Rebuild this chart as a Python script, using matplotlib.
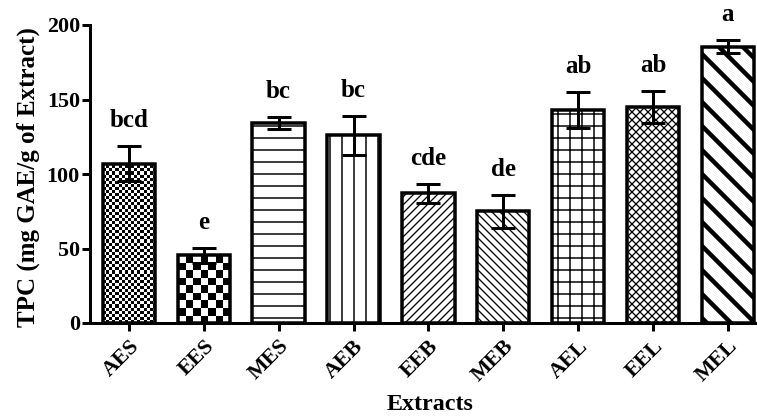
import numpy as np
import matplotlib
matplotlib.use("Agg")
import matplotlib.pyplot as plt

extracts = ["AES", "EES", "MES", "AEB", "EEB", "MEB", "AEL", "EEL", "MEL"]
tpc_mean = [107, 45.5, 134, 126, 87, 75, 143, 145, 185.5]
tpc_sd = [12, 5, 4, 13, 6.5, 11, 12, 11, 4.5]
letters = ["bcd", "e", "bc", "bc", "cde", "de", "ab", "ab", "a"]

# fill styles: checker cells across the bar (0 = use hatch instead)
checker_n = [17, 7, 0, 0, 0, 0, 0, 0, 0]
hatches = [None, None, "-", "|", "///", "\\\\\\", "+", "xxx", "\\"]
hatch_lw = [1, 1, 1.5, 1.5, 1.3, 1.3, 1.5, 1.3, 4.5]

plt.rcParams["font.family"] = ["Liberation Serif", "DejaVu Serif"]
plt.rcParams["font.weight"] = "bold"

W, H, DPI = 757, 419, 72
fig = plt.figure(figsize=(W / DPI, H / DPI), dpi=DPI)
ax = fig.add_axes([90 / W, 1 - 323 / H, 1 - 90 / W, (323 - 25) / H])
ax.set_xlim(-0.52, 8.39)
ax.set_ylim(0, 200)

x = np.arange(len(extracts))
face = ["none" if n else "white" for n in checker_n]
bars = ax.bar(x, tpc_mean, width=0.7, color=face, edgecolor="black",
              linewidth=3.5, zorder=2)

# pixel size of one data unit, to size the checker cells
px_x = ax.get_position().width * W / (ax.get_xlim()[1] - ax.get_xlim()[0])
px_y = ax.get_position().height * H / 200

for i, b in enumerate(bars):
    if hatches[i]:
        b.set_hatch(hatches[i])
        if hasattr(b, "set_hatch_linewidth"):
            b.set_hatch_linewidth(hatch_lw[i])
    n = checker_n[i]
    if n:
        w = b.get_width()
        cell_y = (w / n) * px_x / px_y
        ny = int(np.ceil(b.get_height() / cell_y))
        arr = np.add.outer(np.arange(ny), np.arange(n)) % 2
        x0 = b.get_x()
        im = ax.imshow(arr, cmap="gray_r", vmin=0, vmax=1, origin="lower",
                       extent=(x0, x0 + w, 0, ny * cell_y),
                       interpolation="nearest", aspect="auto", zorder=1)
        im.set_clip_path(b)

ax.set_xlim(-0.52, 8.39)
ax.set_ylim(0, 200)

ax.errorbar(x, tpc_mean, yerr=tpc_sd, fmt="none", ecolor="black",
            elinewidth=3, capsize=12, capthick=3, zorder=3)

for xi, m, s, lab in zip(x, tpc_mean, tpc_sd, letters):
    ax.annotate(lab, (xi, m + s), xytext=(0, 19), textcoords="offset points",
                ha="center", va="baseline", fontsize=25, fontweight="bold",
                annotation_clip=False)

for side in ["top", "right"]:
    ax.spines[side].set_visible(False)
for side in ["left", "bottom"]:
    ax.spines[side].set_linewidth(3)

ax.set_yticks([0, 50, 100, 150, 200])
ax.tick_params(axis="y", length=8, width=3, labelsize=22, pad=2)
ax.tick_params(axis="x", length=8, width=3, labelsize=22, pad=5)
ax.set_xticks(x)
ax.set_xticklabels(extracts, rotation=45, ha="right", rotation_mode="anchor")

fig.text(28 / W, 1 - 177 / H, "TPC (mg GAE/g of Extract)", rotation=90,
         ha="center", va="center", fontsize=25, fontweight="bold")
fig.text(430 / W, 1 - 405 / H, "Extracts", ha="center", va="center",
         fontsize=24, fontweight="bold")

fig.savefig("out.png", dpi=DPI)
